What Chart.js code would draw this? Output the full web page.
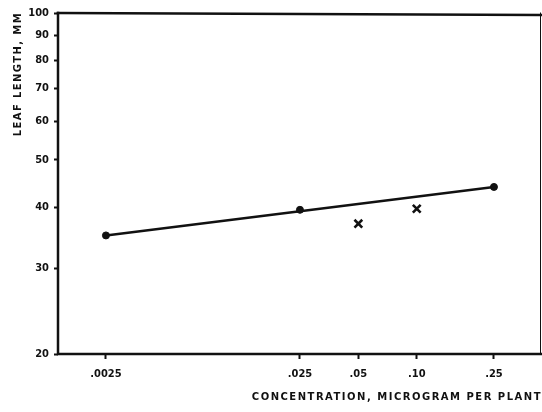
<!DOCTYPE html>
<html>
<head>
<meta charset="utf-8">
<script src="https://cdn.jsdelivr.net/npm/chart.js@4.4.1/dist/chart.umd.min.js"></script>
<style>
  html, body { margin: 0; padding: 0; background: #fff; }
  #wrap { width: 542px; height: 412px; }
</style>
</head>
<body>
<div id="wrap"><canvas id="c" width="542" height="412"></canvas></div>
<script>
// Concentration (microgram per plant) and leaf length (mm)
const dotConc = [0.0025, 0.025, 0.25];
const dotLength = [35, 39.5, 44];
const crossConc = [0.05, 0.10];
const crossLength = [37, 39.7];
const fitConc = [0.0025, 0.25];
const fitLength = [35, 44];

const xTickValues = [0.0025, 0.025, 0.05, 0.10, 0.25];
const xTickLabels = ['.0025', '.025', '.05', '.10', '.25'];
const yTickValues = [20, 30, 40, 50, 60, 70, 80, 90, 100];

const xTitle = 'CONCENTRATION, MICROGRAM PER PLANT';
const yTitle = 'LEAF LENGTH, MM';

const ink = '#111';
const tickFont = { family: '"DejaVu Sans Condensed", "DejaVu Sans", sans-serif', size: 11, weight: 'bold' };

const pts = (xs, ys) => xs.map((x, i) => ({ x, y: ys[i] }));

// Frame lines and axis titles drawn on top of the chart area
const framePlugin = {
  id: 'frame',
  afterDraw(chart) {
    const { ctx, chartArea: a } = chart;
    ctx.save();
    ctx.strokeStyle = ink;
    ctx.lineCap = 'square';
    // left and bottom axis lines
    ctx.lineWidth = 2.5;
    ctx.beginPath();
    ctx.moveTo(a.left, a.top);
    ctx.lineTo(a.left, a.bottom);
    ctx.lineTo(a.right, a.bottom);
    ctx.stroke();
    // top border
    ctx.beginPath();
    ctx.moveTo(a.left, a.top);
    ctx.lineTo(a.right, a.top + 2);
    ctx.stroke();
    // thin right border
    ctx.lineWidth = 1;
    ctx.beginPath();
    ctx.moveTo(a.right - 0.5, a.top);
    ctx.lineTo(a.right - 0.5, a.bottom);
    ctx.stroke();

    // axis titles
    ctx.fillStyle = ink;
    ctx.font = 'bold 10px "DejaVu Sans", sans-serif';
    ctx.letterSpacing = '1.5px';
    ctx.textAlign = 'right';
    ctx.textBaseline = 'middle';
    ctx.fillText(xTitle, 542, 397);

    ctx.letterSpacing = '1.4px';
    ctx.translate(18, 12);
    ctx.rotate(-Math.PI / 2);
    ctx.textAlign = 'right';
    ctx.fillText(yTitle, 0, 0);
    ctx.restore();
  }
};

new Chart(document.getElementById('c'), {
  type: 'scatter',
  data: {
    datasets: [
      {
        label: 'fit',
        type: 'line',
        data: pts(fitConc, fitLength),
        borderColor: ink,
        borderWidth: 2.5,
        pointRadius: 0,
        fill: false,
        order: 3
      },
      {
        label: 'dots',
        data: pts(dotConc, dotLength),
        pointStyle: 'circle',
        pointRadius: 3.5,
        backgroundColor: ink,
        borderColor: ink,
        borderWidth: 1,
        order: 1
      },
      {
        label: 'crosses',
        data: pts(crossConc, crossLength),
        pointStyle: 'crossRot',
        pointRadius: 5.5,
        borderColor: ink,
        borderWidth: 2.6,
        order: 2
      }
    ]
  },
  options: {
    responsive: false,
    animation: false,
    layout: { autoPadding: false, padding: { left: 0, right: 1, top: 13, bottom: 0 } },
    plugins: { legend: { display: false }, tooltip: { enabled: false } },
    scales: {
      x: {
        type: 'logarithmic',
        min: 0.001415,
        max: 0.437,
        afterBuildTicks(s) { s.ticks = xTickValues.map(v => ({ value: v })); },
        afterFit(s) { s.height = 58; s.paddingLeft = 0; s.paddingRight = 0; },
        border: { display: false },
        grid: { drawOnChartArea: false, drawTicks: true, tickLength: 5, tickWidth: 2, color: ink },
        ticks: {
          color: ink,
          font: tickFont,
          padding: 9,
          maxRotation: 0,
          autoSkip: false,
          callback(v) { const i = xTickValues.indexOf(v); return i >= 0 ? xTickLabels[i] : ''; }
        }
      },
      y: {
        type: 'logarithmic',
        min: 20,
        max: 100,
        afterBuildTicks(s) { s.ticks = yTickValues.map(v => ({ value: v })); },
        afterFit(s) { s.width = 58; s.paddingTop = 0; s.paddingBottom = 0; },
        border: { display: false },
        grid: { drawOnChartArea: false, drawTicks: true, tickLength: 4, tickWidth: 2, color: ink },
        ticks: {
          color: ink,
          font: tickFont,
          padding: 5,
          autoSkip: false,
          callback(v) { return String(v); }
        }
      }
    }
  },
  plugins: [framePlugin]
});
</script>
</body>
</html>
